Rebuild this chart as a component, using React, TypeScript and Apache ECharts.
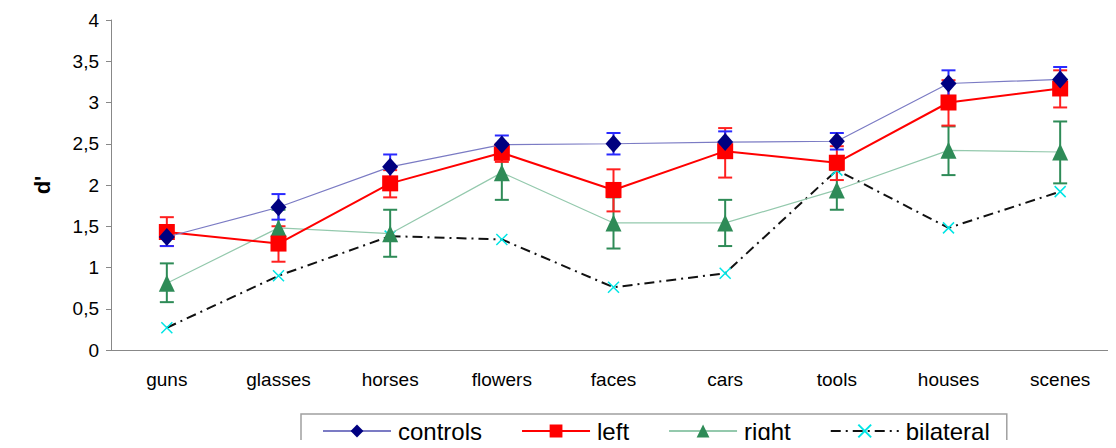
import React, { useEffect, useRef } from "react";
import * as echarts from "echarts";

const categories = ["guns", "glasses", "horses", "flowers", "faces", "cars", "tools", "houses", "scenes"];
const yTicks = [0, 0.5, 1, 1.5, 2, 2.5, 3, 3.5, 4];

const controls = [1.37, 1.73, 2.22, 2.49, 2.5, 2.52, 2.53, 3.23, 3.28];
const controlsLow = [1.26, 1.58, 2.08, 2.39, 2.37, 2.39, 2.43, 3.08, 3.15];
const controlsHigh = [1.48, 1.89, 2.37, 2.6, 2.63, 2.65, 2.63, 3.39, 3.43];

const left = [1.43, 1.29, 2.02, 2.39, 1.94, 2.41, 2.27, 3.0, 3.17];
const leftLow = [1.26, 1.07, 1.85, 2.28, 1.68, 2.09, 2.06, 2.72, 2.94];
const leftHigh = [1.61, 1.5, 2.18, 2.5, 2.19, 2.69, 2.47, 3.27, 3.39];

const right = [0.81, 1.48, 1.41, 2.15, 1.54, 1.54, 1.94, 2.42, 2.4];
const rightLow = [0.58, 1.25, 1.13, 1.82, 1.23, 1.26, 1.7, 2.12, 2.02];
const rightHigh = [1.05, 1.7, 1.7, 2.46, 1.85, 1.82, 2.18, 2.71, 2.77];

const bilateral = [0.27, 0.9, 1.38, 1.34, 0.76, 0.93, 2.18, 1.48, 1.92];

const FONT = "Liberation Sans, Arial, sans-serif";

function errorSeries(name: string, low: number[], high: number[], color: string, z: number) {
  return {
    type: "custom",
    name: name + "_err",
    z,
    silent: true,
    data: low.map((l, i) => [i, l, high[i]]),
    renderItem: (_params: any, api: any) => {
      const x = api.value(0);
      const pLow = api.coord([x, api.value(1)]);
      const pHigh = api.coord([x, api.value(2)]);
      const hw = 7;
      const style = { stroke: color, lineWidth: 2 };
      return {
        type: "group",
        children: [
          { type: "line", shape: { x1: pLow[0], y1: pLow[1], x2: pHigh[0], y2: pHigh[1] }, style },
          { type: "line", shape: { x1: pLow[0] - hw, y1: pLow[1], x2: pLow[0] + hw, y2: pLow[1] }, style },
          { type: "line", shape: { x1: pHigh[0] - hw, y1: pHigh[1], x2: pHigh[0] + hw, y2: pHigh[1] }, style },
        ],
      };
    },
  };
}

export default function App() {
  const ref = useRef<HTMLDivElement>(null);
  useEffect(() => {
    if (!ref.current) return;
    const chart = echarts.init(ref.current, null, { renderer: "svg" });
    chart.setOption({
      animation: false,
      textStyle: { fontFamily: FONT },
      grid: { left: 111, top: 20, width: 1017, height: 330 },
      legend: {
        data: ["controls", "left", "right", "bilateral"],
        left: 301,
        top: 414,
        padding: [5, 17, 20, 21],
        itemGap: 39,
        itemWidth: 68,
        itemHeight: 16,
        borderColor: "#a0a0a0",
        borderWidth: 1.5,
        textStyle: { fontSize: 24, color: "#000", fontFamily: FONT, padding: [0, 0, 0, 2] },
      },
      xAxis: {
        type: "category",
        data: categories,
        boundaryGap: true,
        axisLine: { lineStyle: { color: "#888", width: 1 } },
        axisTick: { show: false },
        axisLabel: { fontSize: 19, color: "#000", margin: 20 },
      },
      yAxis: {
        type: "value",
        min: 0,
        max: 4,
        interval: 0.5,
        name: "d'",
        nameLocation: "middle",
        nameGap: 58,
        nameRotate: 90,
        nameTextStyle: { fontSize: 22, fontWeight: "bold", color: "#000" },
        axisLine: { show: true, lineStyle: { color: "#888", width: 1 } },
        axisTick: { show: true, length: 5, lineStyle: { color: "#888" } },
        splitLine: { show: false },
        axisLabel: {
          fontSize: 19,
          color: "#000",
          margin: 12,
          formatter: (v: number) => (yTicks.includes(v) ? String(v).replace(".", ",") : ""),
        },
      },
      series: [
        errorSeries("right", rightLow, rightHigh, "#2e8b57", 2),
        errorSeries("left", leftLow, leftHigh, "#ff2020", 3),
        errorSeries("controls", controlsLow, controlsHigh, "#2a2aff", 4),
        {
          name: "bilateral",
          type: "line",
          z: 5,
          data: bilateral,
          symbol: "path://M0,0L10,10M10,0L0,10",
          symbolSize: 11,
          itemStyle: { color: "#00e5e5", borderColor: "#00e5e5", borderWidth: 1.5 },
          lineStyle: { color: "#111", width: 2, type: [10, 5, 2, 5] },
        },
        {
          name: "right",
          type: "line",
          z: 6,
          data: right,
          symbol: "triangle",
          symbolSize: [16, 17],
          itemStyle: { color: "#2e8b57" },
          lineStyle: { color: "#94c9ad", width: 1.2 },
        },
        {
          name: "left",
          type: "line",
          z: 7,
          data: left,
          symbol: "rect",
          symbolSize: 16,
          itemStyle: { color: "#ff0000" },
          lineStyle: { color: "#ff0000", width: 2 },
        },
        {
          name: "controls",
          type: "line",
          z: 8,
          data: controls,
          symbol: "diamond",
          symbolSize: [16, 18],
          itemStyle: { color: "#000080" },
          lineStyle: { color: "#7b7bc4", width: 1.2 },
        },
      ],
    });
    return () => chart.dispose();
  }, []);
  return <div ref={ref} style={{ width: 1116, height: 448, margin: -8 }} />;
}
